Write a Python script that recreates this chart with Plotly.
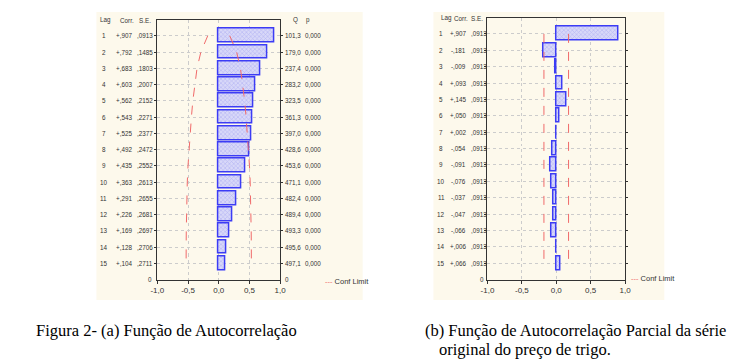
import plotly.graph_objects as go

W, H = 745, 364

# ---------------- data ----------------
lags = list(range(1, 16))
acf_corr = [0.907, 0.792, 0.683, 0.603, 0.562, 0.543, 0.525, 0.492, 0.435, 0.363,
            0.291, 0.226, 0.169, 0.128, 0.104]
acf_se = [0.0913, 0.1485, 0.1803, 0.2007, 0.2152, 0.2271, 0.2377, 0.2472, 0.2552,
          0.2613, 0.2655, 0.2681, 0.2697, 0.2706, 0.2711]
acf_q = [101.3, 179.0, 237.4, 283.2, 323.5, 361.3, 397.0, 428.6, 453.6, 471.1,
         482.4, 489.4, 493.3, 495.6, 497.1]
acf_p = [0.000] * 15
pacf_corr = [0.907, -0.181, -0.009, 0.093, 0.145, 0.050, 0.002, -0.054, -0.091,
             -0.076, -0.037, -0.047, -0.066, 0.006, 0.066]
pacf_se = [0.0913] * 15
x_tickvals = [-1.0, -0.5, 0.0, 0.5, 1.0]
x_ticktext = ["-1,0", "-0,5", "0,0", "0,5", "1,0"]
caption_a = "Figura 2- (a) Função de Autocorrelação"
caption_b1 = "(b) Função de Autocorrelação Parcial da série"
caption_b2 = "original do preço de trigo."
z = 1.96


def fcorr(v):
    s = "+" if v >= 0 else "-"
    return s + ("%.3f" % abs(v)).replace("0.", ",", 1)


def fse(v):
    return ("%.4f" % v).replace("0.", ",", 1)


def fnum(v, d):
    return ("%.*f" % (d, v)).replace(".", ",")


def px(x):
    return x / W


def py(y):
    return 1 - y / H


SMALL = "Liberation Sans, Arial, sans-serif"
CREAM = "#fdf9ec"
BAR_LINE = "#3c3cf5"
RED = "#f06a6a"

fig = go.Figure()

pattern = dict(shape="x", fgcolor="#8e8ef0", bgcolor="#d8d8f8", size=3, solidity=0.35)

# ACF bars
fig.add_trace(go.Bar(x=acf_corr, y=lags, orientation="h", width=0.85,
                     marker=dict(color="#d8d8f8", line=dict(color=BAR_LINE, width=1.5),
                                 pattern=pattern),
                     xaxis="x", yaxis="y", showlegend=False))
fig.add_trace(go.Scatter(x=[z * s for s in acf_se], y=lags, mode="lines",
                         line=dict(color=RED, dash="dash", width=1),
                         xaxis="x", yaxis="y", showlegend=False))
fig.add_trace(go.Scatter(x=[-z * s for s in acf_se], y=lags, mode="lines",
                         line=dict(color=RED, dash="dash", width=1),
                         xaxis="x", yaxis="y", showlegend=False))

# PACF bars
fig.add_trace(go.Bar(x=pacf_corr, y=lags, orientation="h", width=0.85,
                     marker=dict(color="#d8d8f8", line=dict(color=BAR_LINE, width=1.5),
                                 pattern=pattern),
                     xaxis="x2", yaxis="y2", showlegend=False))
fig.add_trace(go.Scatter(x=[z * s for s in pacf_se], y=lags, mode="lines",
                         line=dict(color=RED, dash="dash", width=1),
                         xaxis="x2", yaxis="y2", showlegend=False))
fig.add_trace(go.Scatter(x=[-z * s for s in pacf_se], y=lags, mode="lines",
                         line=dict(color=RED, dash="dash", width=1),
                         xaxis="x2", yaxis="y2", showlegend=False))

xa = dict(range=[-1, 1], tickvals=x_tickvals, ticktext=x_ticktext,
          showgrid=True, gridcolor="#cccccc", griddash="dot", gridwidth=1,
          zeroline=False, showline=True, linecolor="#333333", linewidth=1, mirror=True,
          ticks="outside", ticklen=3, tickcolor="#333333",
          tickfont=dict(family=SMALL, size=8, color="#333333"), fixedrange=True)
ya = dict(range=[16, 0], tickvals=lags, showticklabels=False,
          showgrid=True, gridcolor="#cccccc", griddash="dot", gridwidth=1,
          zeroline=False, showline=True, linecolor="#333333", linewidth=1, mirror="ticks",
          ticks="outside", ticklen=2, tickcolor="#333333", fixedrange=True)

fig.update_layout(
    width=W, height=H, margin=dict(l=0, r=0, t=0, b=0),
    paper_bgcolor="white", plot_bgcolor="white",
    bargap=0, barmode="overlay",
    xaxis=dict(xa, domain=[px(153), px(278)], anchor="y"),
    yaxis=dict(ya, domain=[py(279.5), py(19.5)], anchor="x"),
    xaxis2=dict(xa, domain=[px(489), px(629)], anchor="y2"),
    yaxis2=dict(ya, domain=[py(279.5), py(17.5)], anchor="x2"),
)

shapes = [
    dict(type="rect", xref="paper", yref="paper", x0=px(91), x1=px(362), y0=py(300), y1=py(12),
         fillcolor=CREAM, line=dict(width=0), layer="below"),
    dict(type="rect", xref="paper", yref="paper", x0=px(434), x1=px(669), y0=py(300), y1=py(12),
         fillcolor=CREAM, line=dict(width=0), layer="below"),
]
fig.update_layout(shapes=shapes)

ann = []
TC = "#333333"


def txt(x, y, t, yref="paper", xanchor="left", size=6.3):
    ann.append(dict(x=x, y=y, xref="paper", yref=yref, text=t, showarrow=False,
                    xanchor=xanchor, yanchor="middle",
                    font=dict(family=SMALL, size=size, color=TC)))


# left table
txt(px(93), py(20), "Lag")
txt(px(113), py(20), "Corr.")
txt(px(132), py(20), "S.E.")
txt(px(289), py(20), "Q")
txt(px(302), py(20), "p")
for i, lg in enumerate(lags):
    txt(px(98.5), lg, str(lg), yref="y", xanchor="center")
    txt(px(129), lg, fcorr(acf_corr[i]), yref="y", xanchor="right")
    txt(px(130.5), lg, fse(acf_se[i]), yref="y")
    txt(px(281), lg, fnum(acf_q[i], 1), yref="y")
    txt(px(301), lg, fnum(acf_p[i], 3), yref="y")
txt(px(150), 16, "0", yref="y", xanchor="right")
txt(px(281), 16, "0", yref="y")

# right table
txt(px(440), py(18), "Lag")
txt(px(453), py(18), "Corr.")
txt(px(470.5), py(18), "S.E.")
for i, lg in enumerate(lags):
    txt(px(442), lg, str(lg), yref="y2", xanchor="center")
    txt(px(469), lg, fcorr(pacf_corr[i]), yref="y2", xanchor="right")
    txt(px(470.5), lg, fse(pacf_se[i]), yref="y2")
txt(px(487), 16, "0", yref="y2", xanchor="right")

# legends
ann.append(dict(x=px(322), y=py(281), xref="paper", yref="paper", showarrow=False,
                xanchor="left", yanchor="middle",
                text="<span style='color:#f06a6a'>---</span> Conf Limit",
                font=dict(family=SMALL, size=7.5, color=TC)))
ann.append(dict(x=px(633), y=py(278), xref="paper", yref="paper", showarrow=False,
                xanchor="left", yanchor="middle",
                text="<span style='color:#f06a6a'>---</span> Conf Limit",
                font=dict(family=SMALL, size=7.5, color=TC)))

# captions
SERIF = "Liberation Serif, Times New Roman, serif"
for x, y, t in [(27, 330, caption_a), (423, 330, caption_b1), (438, 349, caption_b2)]:
    ann.append(dict(x=px(x), y=py(y), xref="paper", yref="paper", showarrow=False,
                    xanchor="left", yanchor="middle", text=t,
                    font=dict(family=SERIF, size=16.5, color="black")))

fig.update_layout(annotations=ann)
fig.write_html("out.html", config={"displayModeBar": False},
               post_script="document.body.style.margin='0px';")
